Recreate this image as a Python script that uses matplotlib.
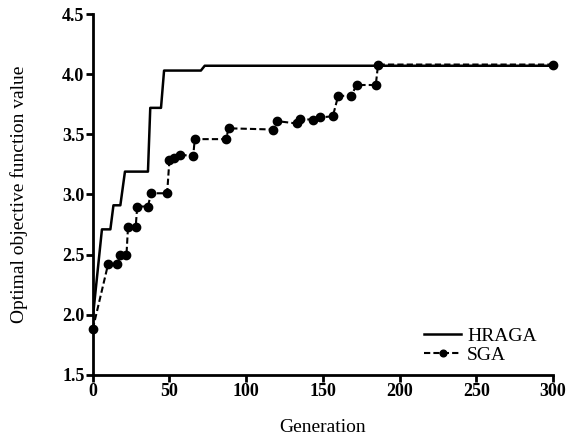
import matplotlib
matplotlib.use("Agg")
import matplotlib.pyplot as plt

# HRAGA curve (generation, objective value)
hraga_gen = [0, 6, 11.5, 13.5, 18, 21, 36, 37.5, 44.5, 46.5, 70.5, 73, 300]
hraga_val = [1.97, 2.71, 2.71, 2.91, 2.91, 3.19, 3.19, 3.72, 3.72, 4.03, 4.03, 4.07, 4.07]

# SGA curve
sga_gen = [0, 10, 16, 18, 22, 23, 28, 29, 36, 38, 48.5, 50, 53, 57, 65.5, 66.5,
           87, 88.5, 117.5, 120, 133, 135, 143.5, 148, 156.5, 160, 168.5, 172,
           184.5, 186, 300]
sga_val = [1.88, 2.42, 2.42, 2.50, 2.50, 2.73, 2.73, 2.90, 2.90, 3.01, 3.01, 3.29,
           3.30, 3.33, 3.32, 3.46, 3.46, 3.55, 3.54, 3.61, 3.59, 3.63, 3.62, 3.64,
           3.65, 3.82, 3.82, 3.91, 3.91, 4.08, 4.08]

xticks = [0, 50, 100, 150, 200, 250, 300]
yticks = [1.5, 2.0, 2.5, 3.0, 3.5, 4.0, 4.5]

plt.rcParams['font.family'] = ['Liberation Serif', 'DejaVu Serif']

fig = plt.figure(figsize=(5.76, 4.38), dpi=100)
ax = fig.add_axes([0.161, 0.144, 0.799, 0.824])

ax.plot(hraga_gen, hraga_val, color='black', lw=1.8, label='HRAGA')
ax.plot(sga_gen, sga_val, color='black', lw=1.5, ls=(0, (3, 1.5)),
        marker='o', ms=6, label='SGA', clip_on=False)

ax.set_xlim(0, 300)
ax.set_ylim(1.5, 4.5)
ax.set_xticks(xticks)
ax.set_yticks(yticks)
ax.set_xticklabels([str(t) for t in xticks], fontweight='bold', fontsize=13)
ax.set_yticklabels(['%.1f' % t for t in yticks], fontweight='bold', fontsize=13)

for s in ['top', 'right']:
    ax.spines[s].set_visible(False)
for s in ['left', 'bottom']:
    ax.spines[s].set_linewidth(2)
ax.tick_params(direction='out', length=5, width=2, pad=1)

ax.set_xlabel('Generation', fontsize=14)
ax.set_ylabel('Optimal objective function value', fontsize=14)
ax.xaxis.set_label_coords(0.5, -0.122)
ax.yaxis.set_label_coords(-0.141, 0.5)

ax.legend(loc='lower right', bbox_to_anchor=(0.965, 0.03), frameon=False,
          fontsize=14, handlelength=1.9, handletextpad=0.3, labelspacing=0.1,
          borderpad=0, borderaxespad=0, markerscale=0.8)

fig.savefig('out.png', dpi=100)
